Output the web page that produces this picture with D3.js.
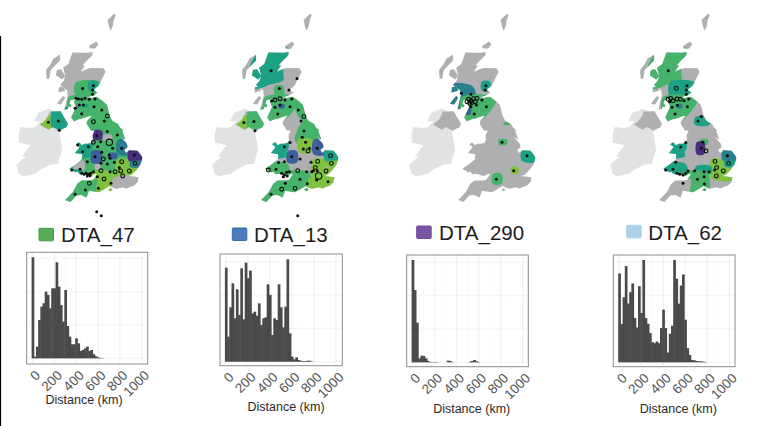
<!DOCTYPE html>
<html>
<head>
<meta charset="utf-8">
<script src="https://d3js.org/d3.v7.min.js"></script>
<style>
  html, body { margin: 0; padding: 0; background: #fff; }
  svg { display: block; font-family: "Liberation Sans", Arial, sans-serif; }
</style>
</head>
<body>
<div id="wrapper"></div>
<script>
// 1. Data

// coastlines, lon / lat
const britainCoast = [[-3.05,58.64],[-3.08,58.44],[-3.65,58.12],[-4.02,57.87],[-3.78,57.87],[-4.2,57.5],[-3.87,57.59],[-3.28,57.72],[-2.0,57.7],[-1.78,57.5],[-2.08,57.15],[-2.46,56.7],[-2.95,56.46],[-2.58,56.28],[-3.15,56.1],[-3.7,56.03],[-3.2,55.98],[-2.7,56.06],[-2.5,56.0],[-2.0,55.77],[-1.7,55.6],[-1.58,55.4],[-1.43,55.0],[-1.36,54.9],[-1.18,54.69],[-1.05,54.62],[-0.61,54.49],[-0.4,54.28],[-0.08,54.12],[-0.19,54.08],[0.03,53.73],[0.12,53.58],[-0.35,53.72],[-0.07,53.57],[0.26,53.34],[0.34,53.14],[0.02,52.97],[0.2,52.8],[0.49,52.95],[1.3,52.93],[1.73,52.6],[1.76,52.48],[1.6,52.15],[1.35,51.95],[1.15,51.78],[0.7,51.53],[0.3,51.47],[0.76,51.44],[1.38,51.39],[1.32,51.13],[0.97,50.91],[0.58,50.85],[0.25,50.74],[-0.14,50.82],[-0.78,50.73],[-1.1,50.8],[-1.4,50.88],[-1.88,50.71],[-2.45,50.52],[-3.4,50.61],[-3.64,50.22],[-4.14,50.36],[-4.63,50.33],[-5.2,49.96],[-5.71,50.07],[-5.48,50.21],[-4.94,50.55],[-4.53,51.02],[-4.12,51.21],[-3.47,51.21],[-3.0,51.23],[-2.6,51.6],[-3.0,51.55],[-3.17,51.45],[-3.95,51.6],[-4.3,51.57],[-4.55,51.73],[-4.7,51.67],[-5.3,51.88],[-4.98,52.02],[-4.7,52.13],[-4.09,52.42],[-4.05,52.72],[-4.75,52.8],[-4.3,53.15],[-4.65,53.3],[-4.35,53.42],[-4.1,53.25],[-3.83,53.33],[-3.49,53.33],[-3.15,53.39],[-3.02,53.55],[-3.05,53.82],[-2.85,54.1],[-3.22,54.1],[-3.63,54.5],[-3.57,54.65],[-3.1,54.97],[-3.6,54.9],[-4.05,54.8],[-4.4,54.75],[-4.86,54.64],[-5.12,54.85],[-5.0,55.0],[-4.65,55.46],[-4.87,55.8],[-4.55,55.95],[-5.2,55.85],[-5.45,55.35],[-5.78,55.3],[-5.6,55.75],[-5.45,56.1],[-5.5,56.42],[-6.2,56.73],[-5.83,57.0],[-5.7,57.28],[-5.9,57.73],[-5.4,57.95],[-5.0,58.62],[-3.5,58.6]];
const islands = [
  [[-1.3,59.87],[-1.1,60.15],[-1.0,60.5],[-0.8,60.8],[-1.0,60.85],[-1.6,60.5],[-1.45,60.1]],
  [[-3.4,59.0],[-2.7,59.25],[-2.5,59.1],[-2.8,58.85],[-3.3,58.85]],
  [[-6.2,58.5],[-6.2,58.15],[-6.7,57.85],[-7.1,57.6],[-7.25,57.1],[-7.5,57.1],[-7.55,57.6],[-7.1,57.95],[-6.85,58.25]],
  [[-6.5,57.6],[-6.1,57.65],[-5.7,57.25],[-6.0,57.05],[-6.6,57.3]],
  [[-6.35,56.3],[-5.7,56.4],[-5.9,56.65],[-6.3,56.6]],
  [[-6.5,55.65],[-6.1,55.6],[-5.7,56.0],[-5.9,56.1],[-6.2,55.9]],
  [[-5.35,55.7],[-5.1,55.55],[-5.2,55.45],[-5.4,55.5]],
  [[-1.55,50.67],[-1.3,50.77],[-1.1,50.68],[-1.3,50.58]],
  [[-6.35,49.95],[-6.28,49.95],[-6.3,49.9]]
];
const irelandCoast = [[-7.37,55.38],[-6.65,55.2],[-6.15,55.22],[-5.8,54.85],[-5.45,54.5],[-5.55,54.3],[-6.3,54.0],[-6.2,53.7],[-6.1,53.35],[-6.0,52.97],[-6.35,52.3],[-6.36,52.17],[-7.1,52.13],[-8.2,51.8],[-8.6,51.6],[-9.8,51.45],[-10.2,51.6],[-10.45,52.1],[-9.9,52.4],[-9.5,52.6],[-9.9,52.57],[-9.45,52.95],[-9.05,53.25],[-10.2,53.4],[-10.2,53.95],[-10.0,54.3],[-9.2,54.25],[-8.6,54.3],[-8.1,54.63],[-8.7,54.63],[-8.3,55.13],[-7.6,55.27]];
const niCoast = [[-7.25,55.2],[-6.65,55.2],[-6.15,55.22],[-5.8,54.85],[-5.45,54.5],[-5.55,54.3],[-6.3,54.1],[-6.9,54.3],[-7.3,54.15],[-8.15,54.45],[-7.75,54.62],[-7.55,54.75],[-7.25,55.05]];

// regions the kernels fill, national grid km
const regions = {
  highland: [[154,1010],[340,1010],[316,959],[290,860],[290,805],[191,772],[136,750],[63,750],[63,882]],
  argyll: [[60,770],[230,770],[260,720],[250,690],[215,670],[205,625],[100,625],[60,680]],
  tayside: [[215,790],[380,790],[385,700],[215,700]],
  dundee: [[300,795],[355,795],[355,735],[300,735]],
  perth: [[235,765],[290,765],[290,706],[235,706]],
  southScot: [[165,690],[395,690],[395,660],[320,560],[280,535],[190,530]],
  glasgow: [[260,645],[295,645],[295,620],[260,620]],
  ayr: [[180,630],[225,630],[225,580],[180,580]],
  northumb: [[395,690],[500,690],[500,545],[405,545],[370,620]],
  cumbria: [[260,590],[405,590],[430,520],[425,470],[290,470],[280,520]],
  tees: [[380,560],[475,560],[475,510],[380,510]],
  scarboro: [[445,525],[480,525],[480,510],[445,510]],
  yorks: [[430,540],[540,540],[540,400],[370,400],[380,470]],
  england: [[130,590],[430,590],[680,400],[680,160],[300,0],[100,0]],
  manc: [[325,470],[385,470],[385,415],[330,415]],
  peakGap: [[396,442],[451,442],[451,409],[396,409]],
  notts: [[385,410],[485,410],[480,330],[400,325]],
  derby: [[412,412],[466,412],[462,378],[412,378]],
  peak: [[392,395],[440,395],[440,315],[392,315]],
  lincs: [[490,410],[570,410],[570,315],[490,315]],
  leics: [[428,320],[485,320],[485,287],[428,287]],
  bham: [[318,335],[380,335],[380,260],[318,260]],
  midsSouth: [[385,235],[488,235],[488,190],[385,190]],
  norfolk: [[565,340],[680,340],[680,270],[565,270]],
  suffolk: [[575,265],[680,265],[680,232],[575,232]],
  essex: [[488,282],[555,282],[570,265],[570,230],[680,230],[680,156],[488,156]],
  herts: [[493,230],[540,230],[540,190],[493,190]],
  oxford: [[372,185],[430,185],[430,118],[372,118]],
  wessex: [[300,195],[462,195],[462,50],[352,50],[352,150],[300,150]],
  sussex: [[462,156],[680,156],[680,50],[462,50]],
  devon: [[100,150],[352,150],[352,0],[100,0]],
  nWales: [[190,400],[320,400],[320,340],[312,340],[312,300],[190,300]],
  midGap: [[205,270],[268,270],[268,210],[205,210]],
  glosGap: [[341,255],[374,255],[374,215],[341,215]],
  sWales: [[130,250],[320,250],[320,165],[130,165]],
  sWalesLow: [[130,205],[255,205],[255,165],[130,165]],
  niWest: [[-50,563],[66,563],[66,486],[-50,486]],
  niEast: [[66,620],[170,620],[170,460],[66,460]]
};

// viridis steps used in the maps, last one is the bare land colour
const shades = ["#7fc241", "#45b36a", "#1fa184", "#2a7f8e", "#3a5e9b", "#482f7e", "#afafb1"];

// region name, shade index
const regions47 = [["tayside",1],["dundee",2],["southScot",1],["glasgow",2],["ayr",5],["northumb",1],["cumbria",1],["england",1],["sussex",6],["midGap",6],["glosGap",6],["peakGap",6],["manc",5],["lincs",3],["essex",0],["wessex",0],["sussex",6],["leics",4],["bham",4],["norfolk",5],["suffolk",3],["nWales",2],["sWalesLow",2],["niWest",0],["niEast",2]];
const regions13 = [["highland",2],["perth",1],["southScot",1],["glasgow",4],["northumb",1],["yorks",1],["notts",0],["lincs",4],["bham",4],["nWales",2],["sWales",1],["norfolk",2],["suffolk",0],["essex",0],["wessex",1],["sussex",0],["devon",1],["niWest",0],["niEast",1]];
const regions290 = [["argyll",3],["dundee",2],["southScot",1],["ayr",4],["scarboro",1],["derby",1],["norfolk",2],["herts",0],["oxford",1]];
const regions62 = [["highland",1],["tayside",2],["southScot",1],["glasgow",3],["tees",2],["derby",1],["peak",5],["nWales",2],["sWales",2],["norfolk",3],["suffolk",2],["essex",0],["midsSouth",2],["wessex",1]];

// sampling sites: easting km, northing km, number of samples
const sites47 = [[330,768,1],[259,750,1],[325,739,1],[325,711,1],[215,684,1],[231,680,1],[253,678,1],[275,684,1],[303,678,1],[341,680,1],[237,640,1],[264,640,1],[334,629,1],[385,607,1],[209,618,1],[253,583,1],[422,568,2],[330,530,2],[402,535,1],[99,535,1],[33,526,1],[105,473,1],[422,466,1],[352,438,1],[488,442,1],[435,394,3],[330,394,2],[378,398,1],[226,376,1],[297,365,1],[358,365,1],[457,354,1],[517,354,1],[259,332,1],[385,328,1],[435,310,1],[341,299,1],[396,284,2],[440,288,1],[600,310,1],[290,266,1],[380,255,1],[422,251,1],[468,262,1],[517,266,2],[605,255,2],[187,211,1],[242,216,1],[380,207,2],[440,200,1],[473,200,2],[501,227,1],[510,205,2],[567,205,2],[523,172,2],[253,189,1],[268,183,1],[281,189,1],[297,183,1],[312,189,1],[330,200,1],[290,172,1],[308,174,1],[400,152,2],[356,167,1],[303,123,2],[446,123,1],[277,79,1],[363,90,1],[209,51,1],[352,-64,1],[382,-90,1]];
const sites13 = [[209,867,1],[380,816,1],[264,750,1],[327,739,1],[213,669,1],[235,673,2],[268,682,2],[301,673,1],[345,680,1],[268,640,1],[235,625,1],[334,629,1],[389,607,1],[253,581,1],[426,565,2],[407,535,1],[30,524,1],[96,532,1],[103,471,1],[426,469,1],[415,427,1],[437,394,1],[334,392,1],[297,365,1],[422,350,1],[462,354,1],[453,337,2],[514,354,1],[345,299,1],[400,284,1],[602,306,2],[607,255,2],[473,262,1],[517,268,2],[259,260,1],[297,266,1],[501,227,2],[488,207,1],[191,211,2],[242,216,1],[385,207,2],[444,200,1],[477,200,1],[514,207,1],[572,205,2],[523,172,3],[279,189,1],[297,178,1],[312,196,1],[330,200,1],[290,167,1],[316,172,1],[400,150,1],[510,145,1],[585,134,1],[303,123,1],[448,121,1],[279,84,2],[367,90,2],[209,51,1],[385,-90,1]];
const sites290 = [[327,768,1],[323,739,1],[165,717,1],[228,711,1],[301,673,1],[213,678,2],[228,667,2],[246,682,2],[268,684,2],[202,662,2],[235,656,2],[220,651,2],[257,662,2],[228,629,1],[264,640,1],[330,629,1],[250,581,1],[433,394,1],[598,306,1],[510,207,1],[396,150,1]];
const sites62 = [[204,867,1],[327,768,1],[257,750,2],[323,739,1],[323,711,1],[202,678,2],[220,684,2],[213,662,1],[235,669,2],[262,680,2],[283,678,2],[308,669,1],[339,680,1],[228,625,1],[264,638,1],[330,629,1],[248,581,1],[422,565,1],[400,535,1],[433,394,1],[319,392,1],[286,363,1],[422,354,1],[453,337,2],[594,306,1],[602,255,2],[512,268,2],[253,262,1],[523,227,2],[187,211,1],[235,216,1],[378,207,1],[440,200,1],[473,200,1],[510,211,1],[440,167,1],[521,172,2],[567,205,2],[261,189,1],[279,183,1],[301,178,1],[319,189,1],[334,205,1],[396,150,1],[442,119,1],[301,123,1]];

// histograms: 20 km bins starting at 0, height of each bin
const counts47 = [303,5,35,115,155,165,200,190,150,210,210,288,215,160,110,205,97,65,42,42,60,45,22,25,30,35,22,25,12,6,3,1,1];
const counts13 = [282,75,163,235,130,217,140,280,127,297,250,273,145,150,138,175,110,130,133,232,200,80,130,125,232,163,103,165,307,85,15,7,13,5,3,2,2,3,3,1];
const counts290 = [307,217,119,12,20,19,12,4,1,1,1,1,0,0,0,0,5,4,1,0,0,0,0,0,0,0,2,4,7,3,1];
const counts62 = [265,114,194,287,175,209,235,132,104,227,147,305,132,115,87,60,57,62,57,102,157,102,29,85,109,305,249,175,229,262,127,42,22,7,6,4,3,3,2,1];

const binWidth = 20;
const distanceTicks = [0, 200, 400, 600, 800, 1000];
const minorTicks = [100, 300, 500, 700, 900];
const panelLabels = ["DTA_47", "DTA_13", "DTA_290", "DTA_62"];
const swatchFills = ["#5aaa5c", "#4f79b8", "#7a55a3", "#a9d1e8"];
const swatchStrokes = ["#3c9d48", "#2e6fae", "#6a4a98", "#a9d1e8"];

// 2. Dimensions

const dimensions = { width: 768, height: 426 };
const kmToPx = 0.1515;
const mapBaseY = 202;
const pxPerLon = 10.33;
const pxPerLat = 17.27;

const panels = [
  { cx: 104, regions: regions47, sites: sites47, counts: counts47,
    frame: [26.7, 252.3, 147.7, 364], x0: 32.7, x1: 141.7, base: 358.3, top: 257.3,
    swatchX: 39, swatchY: 228.3, textX: 61, textY: 241.7, titleX: 84, titleY: 404 },
  { cx: 300, regions: regions13, sites: sites13, counts: counts13,
    frame: [220, 254, 342.3, 365.7], x0: 226, x1: 336, base: 361.7, top: 259.3,
    swatchX: 232.3, swatchY: 228, textX: 254, textY: 241.7, titleX: 286, titleY: 411 },
  { cx: 497, regions: regions290, sites: sites290, counts: counts290,
    frame: [406.7, 255, 528.3, 366.7], x0: 412.7, x1: 522.7, base: 362.3, top: 260,
    swatchX: 416.7, swatchY: 226, textX: 439, textY: 240, titleX: 471.7, titleY: 412.5 },
  { cx: 698, regions: regions62, sites: sites62, counts: counts62,
    frame: [613.3, 255, 735, 366.7], x0: 619.3, x1: 729.3, base: 362.3, top: 260,
    swatchX: 626.7, swatchY: 225.3, textX: 648.3, textY: 240, titleX: 678.3, titleY: 412.5 }
];

// 3. Draw canvas

const wrapper = d3.select("#wrapper")
  .append("svg")
  .attr("width", dimensions.width)
  .attr("height", dimensions.height);

const defs = wrapper.append("defs");
defs.append("filter").attr("id", "soft")
  .append("feGaussianBlur").attr("stdDeviation", 0.35);
defs.append("filter").attr("id", "softer")
  .append("feGaussianBlur").attr("stdDeviation", 0.5);

// the black rule down the left edge of the figure
wrapper.append("line")
  .attr("x1", 0.5).attr("x2", 0.5)
  .attr("y1", 36).attr("y2", dimensions.height)
  .attr("stroke", "#000")
  .attr("stroke-width", 1.2);

const rScale = d3.scaleLinear().domain([1, 2, 3]).range([1.5, 1.9, 3.2]);

panels.forEach((panel, i) => {
  // 4. Create scales

  // the maps are plain lon / lat plots with a fixed aspect
  const lonScale = d3.scaleLinear()
    .domain([0, 1])
    .range([panel.cx + 20.1, panel.cx + 20.1 + pxPerLon]);

  const latScale = d3.scaleLinear()
    .domain([49.96, 50.96])
    .range([mapBaseY, mapBaseY - pxPerLat]);

  const eastScale = d3.scaleLinear()
    .domain([0, 1000])
    .range([panel.cx - 400 * kmToPx, panel.cx + 600 * kmToPx]);

  const northScale = d3.scaleLinear()
    .domain([0, 1000])
    .range([mapBaseY, mapBaseY - 1000 * kmToPx]);

  const coastLine = d3.line()
    .x(d => lonScale(d[0]))
    .y(d => latScale(d[1]))
    .curve(d3.curveLinearClosed);

  // kernels are blobs, so the region corners get rounded off
  const regionLine = d3.line()
    .x(d => eastScale(d[0]))
    .y(d => northScale(d[1]))
    .curve(d3.curveCatmullRomClosed.alpha(0.5));

  const xScale = d3.scaleLinear()
    .domain([0, 1000])
    .range([panel.x0, panel.x1]);

  const yScale = d3.scaleLinear()
    .domain([0, d3.max(panel.counts)])
    .range([panel.base, panel.top]);

  // 5. Draw maps

  const landPath = [britainCoast, ...islands, niCoast].map(coastLine).join(" ");
  const clipId = `land-${i}`;
  defs.append("clipPath").attr("id", clipId)
    .append("path").attr("d", landPath);

  const map = wrapper.append("g").attr("filter", "url(#soft)");

  map.append("path")
    .attr("d", coastLine(irelandCoast))
    .attr("fill", "#e1e2e3");

  map.append("path")
    .attr("d", landPath)
    .attr("fill", "#afafb1");

  map.append("g")
    .attr("clip-path", `url(#${clipId})`)
    .append("g")
    .attr("filter", "url(#softer)")
    .selectAll("path")
    .data(panel.regions)
    .join("path")
    .attr("d", d => regionLine(regions[d[0]]))
    .attr("fill", d => shades[d[1]]);

  map.append("g")
    .selectAll("circle")
    .data(panel.sites)
    .join("circle")
    .attr("cx", d => eastScale(d[0]))
    .attr("cy", d => northScale(d[1]))
    .attr("r", d => rScale(d[2]))
    .attr("fill", d => d[2] > 1 ? "none" : "#0b0b0b")
    .attr("stroke", "#0b0b0b")
    .attr("stroke-width", d => d[2] > 1 ? 1.1 : 0);

  // 6. Draw legend

  wrapper.append("rect")
    .attr("x", panel.swatchX)
    .attr("y", panel.swatchY)
    .attr("width", 14.5)
    .attr("height", 12.5)
    .attr("rx", 1)
    .attr("fill", swatchFills[i])
    .attr("stroke", swatchStrokes[i])
    .attr("stroke-width", 1);

  wrapper.append("text")
    .attr("x", panel.textX)
    .attr("y", panel.textY)
    .attr("fill", "#1d1d1f")
    .style("font-size", "20.5px")
    .text(panelLabels[i]);

  // 7. Draw histogram

  const [fx0, fy0, fx1, fy1] = panel.frame;
  const hist = wrapper.append("g");

  const rowLines = yScale.ticks(4);
  hist.append("g")
    .selectAll("line")
    .data(rowLines)
    .join("line")
    .attr("x1", fx0).attr("x2", fx1)
    .attr("y1", d => yScale(d)).attr("y2", d => yScale(d))
    .attr("stroke", "#ececec")
    .attr("stroke-width", 0.6);

  hist.append("g")
    .selectAll("line")
    .data(minorTicks)
    .join("line")
    .attr("x1", d => xScale(d)).attr("x2", d => xScale(d))
    .attr("y1", fy0).attr("y2", fy1)
    .attr("stroke", "#f3f3f3")
    .attr("stroke-width", 0.4);

  hist.append("g")
    .selectAll("line")
    .data(distanceTicks)
    .join("line")
    .attr("x1", d => xScale(d)).attr("x2", d => xScale(d))
    .attr("y1", fy0).attr("y2", fy1)
    .attr("stroke", "#e8e8e8")
    .attr("stroke-width", 0.7);

  hist.append("g")
    .selectAll("rect")
    .data(panel.counts)
    .join("rect")
    .attr("x", (d, j) => xScale(j * binWidth) - 0.5 * (xScale(binWidth) - xScale(0)))
    .attr("width", xScale(binWidth) - xScale(0) + 0.5)
    .attr("y", d => yScale(d))
    .attr("height", d => panel.base - yScale(d))
    .attr("fill", "#4a4a4a");

  hist.append("rect")
    .attr("x", fx0)
    .attr("y", fy0)
    .attr("width", fx1 - fx0)
    .attr("height", fy1 - fy0)
    .attr("fill", "none")
    .attr("stroke", "#8c8c8c")
    .attr("stroke-width", 1);

  // 8. Draw peripherals

  const xAxisGenerator = d3.axisBottom()
    .scale(xScale)
    .tickValues(distanceTicks)
    .tickFormat(d3.format("d"))
    .tickSize(0);

  const xAxis = hist.append("g")
    .attr("transform", `translate(0, ${fy1})`)
    .call(xAxisGenerator);

  xAxis.select(".domain").remove();

  xAxis.selectAll("text")
    .attr("x", 0)
    .attr("y", 0)
    .attr("dx", "2px")
    .attr("dy", "5px")
    .attr("fill", "#555")
    .attr("text-anchor", "end")
    .attr("transform", "translate(3, 10) rotate(-45)")
    .style("font-size", "13.5px")
    .style("font-family", "'Liberation Sans', Arial, sans-serif");

  hist.append("text")
    .attr("x", panel.titleX)
    .attr("y", panel.titleY)
    .attr("text-anchor", "middle")
    .attr("fill", "#2a2a2a")
    .style("font-size", "12.5px")
    .text("Distance (km)");
});
</script>
</body>
</html>
